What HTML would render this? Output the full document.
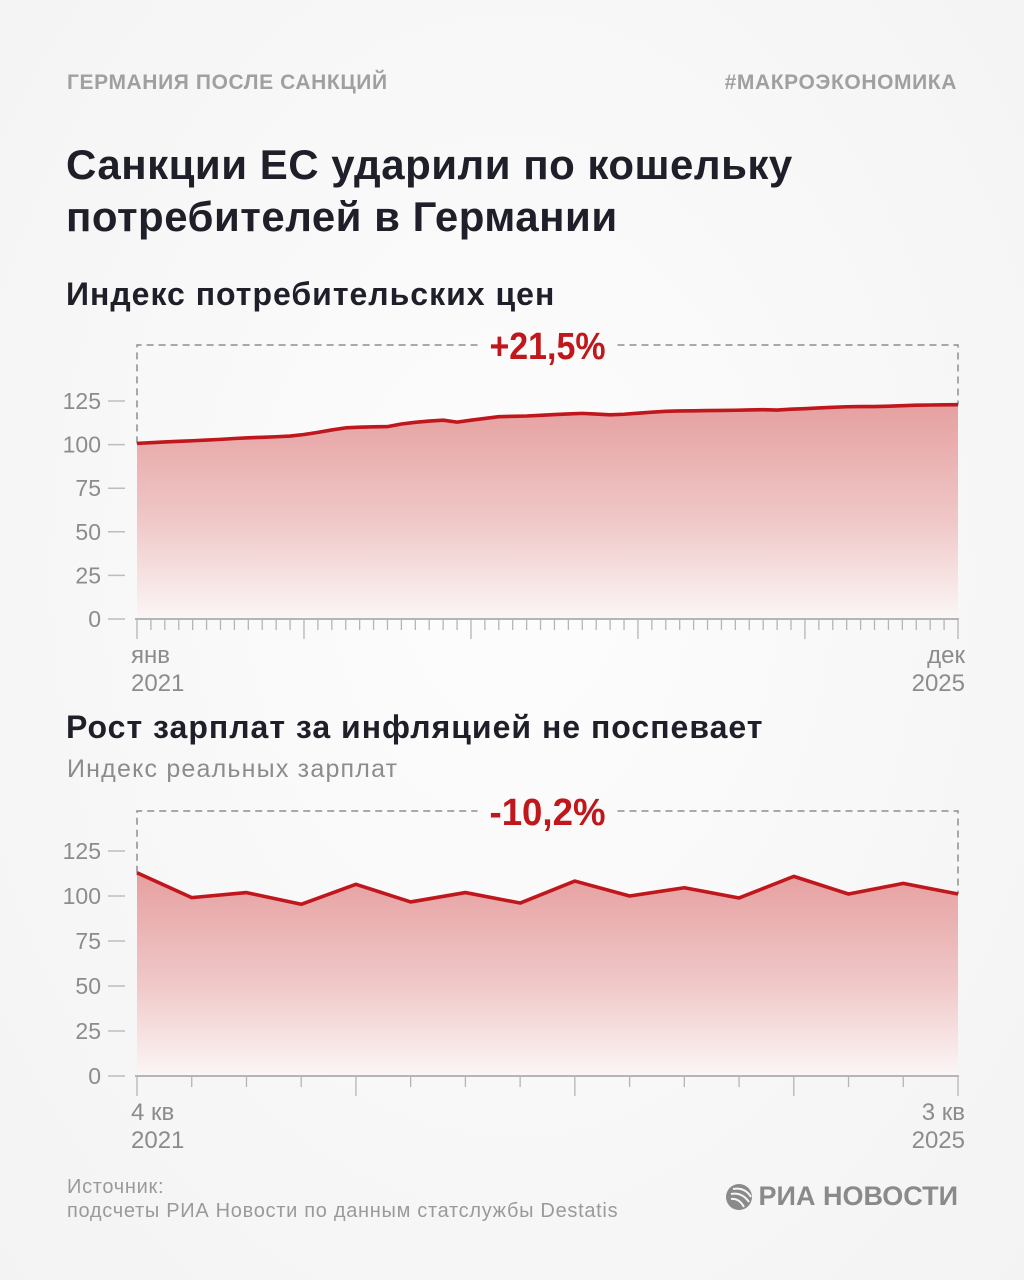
<!DOCTYPE html>
<html><head><meta charset="utf-8">
<style>
html,body{margin:0;padding:0}
body{width:1024px;height:1280px;background:radial-gradient(ellipse at 50% 45%,#fdfdfd 0%,#f3f3f3 100%);font-family:"Liberation Sans","DejaVu Sans",sans-serif;position:relative;overflow:hidden}
.t{position:absolute;white-space:nowrap}
svg{position:absolute;left:0;top:0}
</style></head>
<body>
<div class="t" style="left:67px;top:71px;font-size:21px;letter-spacing:0.6px;font-weight:bold;color:#a0a0a0">ГЕРМАНИЯ ПОСЛЕ САНКЦИЙ</div>
<div class="t" style="right:67px;top:71px;font-size:21px;letter-spacing:0.6px;font-weight:bold;color:#a0a0a0">#МАКРОЭКОНОМИКА</div>
<div class="t" style="left:66px;top:139px;font-size:42px;letter-spacing:0.5px;font-weight:bold;color:#1f1f2a;line-height:52px">Санкции ЕС ударили по кошельку<br>потребителей в Германии</div>
<div class="t" style="left:66px;top:276px;font-size:32px;letter-spacing:1px;font-weight:bold;color:#1f1f2a">Индекс потребительских цен</div>
<div class="t" style="left:66px;top:709px;font-size:32px;letter-spacing:1px;font-weight:bold;color:#1f1f2a">Рост зарплат за инфляцией не поспевает</div>
<div class="t" style="left:67px;top:755px;font-size:25px;letter-spacing:1.2px;color:#8c8c8c">Индекс реальных зарплат</div>
<div class="t" style="left:67px;top:1175px;font-size:20px;letter-spacing:0.7px;color:#9a9a9a;line-height:24px">Источник:<br>подсчеты РИА Новости по данным статслужбы Destatis</div>
<div class="t" style="right:66px;top:1181px;font-size:27px;font-weight:bold;color:#8a8a8a;display:flex;align-items:center">
<svg width="28" height="28" viewBox="0 0 28 28" style="position:static;margin-right:6px"><circle cx="14" cy="14" r="13" fill="#8a8a8a"/><path d="M8 6 Q20 4 26 14 M6 11 Q17 9 24 19 M6 16 Q14 15 19 24" stroke="#f6f6f6" stroke-width="2" fill="none"/></svg>РИА НОВОСТИ</div>

<svg id="chart" width="1024" height="1280"></svg>
<script>
const cpiYTicks=[0,25,50,75,100,125];
const cpiValues=[100.7,101.1,101.5,101.9,102.2,102.6,103.0,103.5,103.9,104.2,104.5,104.9,105.8,107.0,108.4,109.6,110.0,110.2,110.3,111.8,112.8,113.5,114.0,112.9,114.0,115.0,116.0,116.2,116.4,116.8,117.2,117.6,117.9,117.5,117.1,117.4,118.0,118.6,119.1,119.3,119.4,119.5,119.6,119.7,119.9,120.0,119.8,120.3,120.6,121.0,121.4,121.7,121.8,121.8,122.0,122.3,122.6,122.7,122.8,122.9];
const cpiXLabels=[["янв","2021"],["дек","2025"]];
const cpiChange="+21,5%";
const wageYTicks=[0,25,50,75,100,125];
const wageValues=[112.9,99.1,101.9,95.4,106.5,96.7,101.9,96.1,108.3,100.0,104.6,98.9,110.9,101.1,107.0,101.1];
const wageXLabels=[["4 кв","2021"],["3 кв","2025"]];
const wageChange="-10,2%";

const NS="http://www.w3.org/2000/svg";
const svg=document.getElementById('chart');
const defs=document.createElementNS(NS,'defs');
defs.innerHTML='<linearGradient id="fillg" x1="0" y1="0" x2="0" y2="1"><stop offset="0" stop-color="#e6a0a0"/><stop offset="0.55" stop-color="#f0c8c8"/><stop offset="1" stop-color="#fbf6f6"/></linearGradient>';
svg.appendChild(defs);
function mk(tag,attrs,parent){const e=document.createElementNS(NS,tag);for(const k in attrs)e.setAttribute(k,attrs[k]);(parent||svg).appendChild(e);return e;}

function drawChart(cfg){
  const x0=137,x1=958,n=cfg.values.length;
  const xs=i=>x0+(x1-x0)*i/(n-1);
  const ys=v=>cfg.base-cfg.ppu*v;
  const g=mk('g',{});
  
  
  cfg.yTicks.forEach(t=>{
    const l=mk('line',{x1:108,x2:125,y1:ys(t),y2:ys(t),stroke:'#bdbdbd','stroke-width':1.5},g);
    
    
    const tx=mk('text',{x:101,y:ys(t)+8,'text-anchor':'end','font-size':23,fill:'#8c8c8c','font-family':'Liberation Sans, sans-serif'},g);
    tx.textContent=t;
    
    
  });
  let d='M'+xs(0)+','+ys(0);
  cfg.values.forEach((v,i)=>{d+=' L'+xs(i)+','+ys(v);});
  d+=' L'+xs(n-1)+','+ys(0)+' Z';
  const area=mk('path',{d:d,fill:'url(#fillg)'},g);
  
  
  const top=cfg.boxTop;
  const br=mk('path',{d:'M'+x0+','+ys(cfg.values[0])+' V'+top+' H'+(x0+(x1-x0)/2-70)+' M'+(x0+(x1-x0)/2+70)+','+top+' H'+x1+' V'+ys(cfg.values[n-1]),fill:'none',stroke:'#8e8e8e','stroke-width':1.5,'stroke-dasharray':'7,5'},g);
  
  
  const ct=mk('text',{x:(x0+x1)/2,y:top+14,'text-anchor':'middle','font-size':38,'font-weight':'bold',fill:'#c0171c',textLength:116,lengthAdjust:'spacingAndGlyphs','font-family':'Liberation Sans, sans-serif'},g);
  ct.textContent=cfg.change;
  
  
  const pts=cfg.values.map((v,i)=>xs(i)+','+ys(v)).join(' ');
  const ln=mk('polyline',{points:pts,fill:'none',stroke:'#c0171c','stroke-width':3.6,'stroke-linejoin':'round'},g);
  
  
  const ax=mk('line',{x1:x0-2,x2:x1+1,y1:cfg.base,y2:cfg.base,stroke:'#b5b5b5','stroke-width':2},g);
  
  
  for(let i=0;i<n;i++){
    const major=(i%cfg.majorEvery===0)||i===n-1;
    const tk=mk('line',{x1:xs(i),x2:xs(i),y1:cfg.base,y2:cfg.base+(major?cfg.majorLen:cfg.minorLen),stroke:'#b5b5b5','stroke-width':1.3},g);
    
    
  }
  [[0,cfg.xLabels[0],'start',x0-6],[1,cfg.xLabels[1],'end',x1+7]].forEach(([k,lab,anc,xx])=>{
    lab.forEach((s,j)=>{
      const t=mk('text',{x:xx,y:cfg.base+44+j*28,'text-anchor':anc,'font-size':24,fill:'#8c8c8c','font-family':'Liberation Sans, sans-serif'},g);
      t.textContent=s;
      
      
    });
  });
}
drawChart({name:'cpi-chart',values:cpiValues,yTicks:cpiYTicks,xLabels:cpiXLabels,change:cpiChange,base:619,ppu:1.744,boxTop:345,majorEvery:12,majorLen:20,minorLen:11});
drawChart({name:'wage-chart',values:wageValues,yTicks:wageYTicks,xLabels:wageXLabels,change:wageChange,base:1076,ppu:1.8,boxTop:811,majorEvery:4,majorLen:20,minorLen:11});
</script>
</body></html>
